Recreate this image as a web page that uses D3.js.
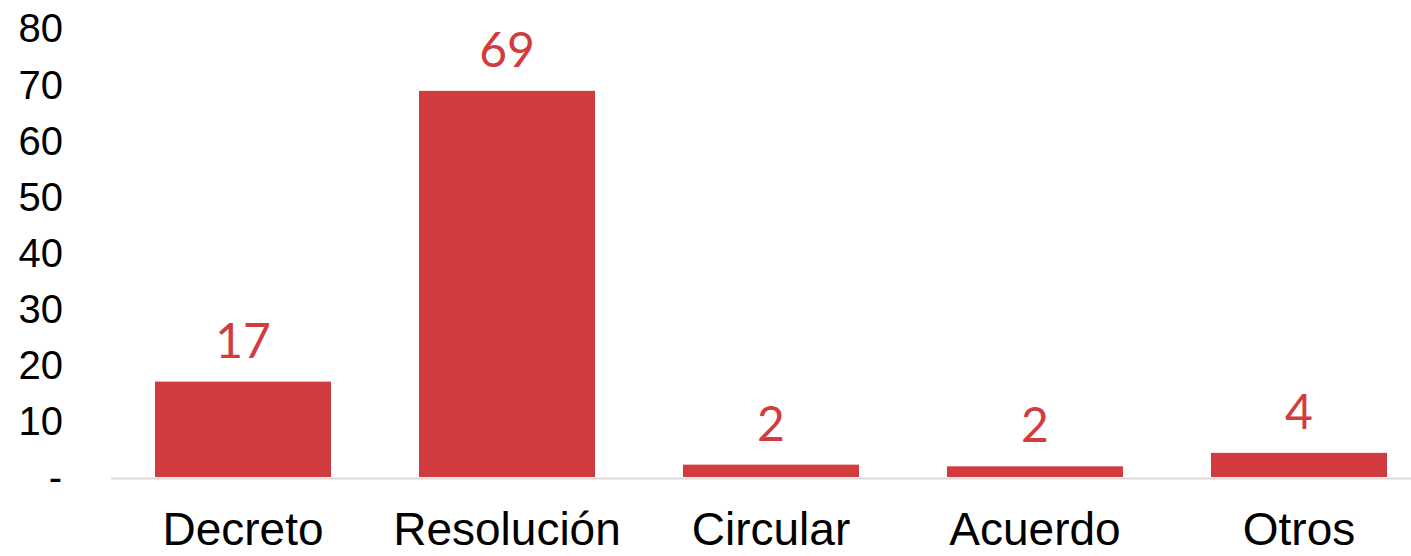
<!DOCTYPE html>
<html>
<head>
    <script src="https://cdnjs.cloudflare.com/ajax/libs/d3/7.8.5/d3.min.js"></script>
    <style>
        body {
            margin: 0;
            background: #ffffff;
            overflow: hidden;
        }
        .tick-label {
            font-family: "Liberation Sans", Arial, sans-serif;
            font-size: 40px;
            fill: #000000;
        }
        .cat-label {
            font-family: "Liberation Sans", Arial, sans-serif;
            font-size: 46px;
            fill: #000000;
        }
        .value-label {
            font-family: Lato, "Open Sans", sans-serif;
            font-size: 48px;
            fill: #d33c3e;
        }
    </style>
</head>
<body>
    <svg id="chart" width="1411" height="556"></svg>

    <script>
        const categories = ["Decreto", "Resolución", "Circular", "Acuerdo", "Otros"];
        const values = [17, 68.8, 2.2, 1.9, 4.3];
        const yTicks = [0, 10, 20, 30, 40, 50, 60, 70, 80];

        const width = 1411, height = 556;
        const svg = d3.select("#chart");

        const x = d3.scaleBand()
            .domain(categories)
            .range([111, 1431])
            .paddingInner(1 / 3)
            .paddingOuter(1 / 6);

        const y = d3.scaleLinear()
            .domain([0, 80])
            .range([477, 28]);

        // y tick labels ("-" for zero)
        svg.append("g")
            .selectAll("text")
            .data(yTicks)
            .join("text")
            .attr("class", "tick-label")
            .attr("x", d => d === 0 ? 62 : 63)
            .attr("y", d => y(d))
            .attr("dy", "0.36em")
            .attr("text-anchor", "end")
            .text(d => d === 0 ? "-" : d);

        // bars
        svg.append("g")
            .selectAll("rect")
            .data(values)
            .join("rect")
            .attr("x", (d, i) => x(categories[i]))
            .attr("width", x.bandwidth())
            .attr("y", d => y(d))
            .attr("height", d => y(0) - y(d))
            .attr("fill", "#d33c3e");

        // baseline
        svg.append("line")
            .attr("x1", 111)
            .attr("x2", width)
            .attr("y1", y(0) + 1.5)
            .attr("y2", y(0) + 1.5)
            .attr("stroke", "#d9d9d9")
            .attr("stroke-width", 2);

        // value labels
        svg.append("g")
            .selectAll("text")
            .data(values)
            .join("text")
            .attr("class", "value-label")
            .attr("x", (d, i) => x(categories[i]) + x.bandwidth() / 2)
            .attr("y", d => y(d) - 24)
            .attr("text-anchor", "middle")
            .text(d => d3.format(".0f")(d));

        // category labels
        svg.append("g")
            .selectAll("text")
            .data(categories)
            .join("text")
            .attr("class", "cat-label")
            .attr("x", d => x(d) + x.bandwidth() / 2)
            .attr("y", 545)
            .attr("text-anchor", "middle")
            .text(d => d);
    </script>
</body>
</html>
